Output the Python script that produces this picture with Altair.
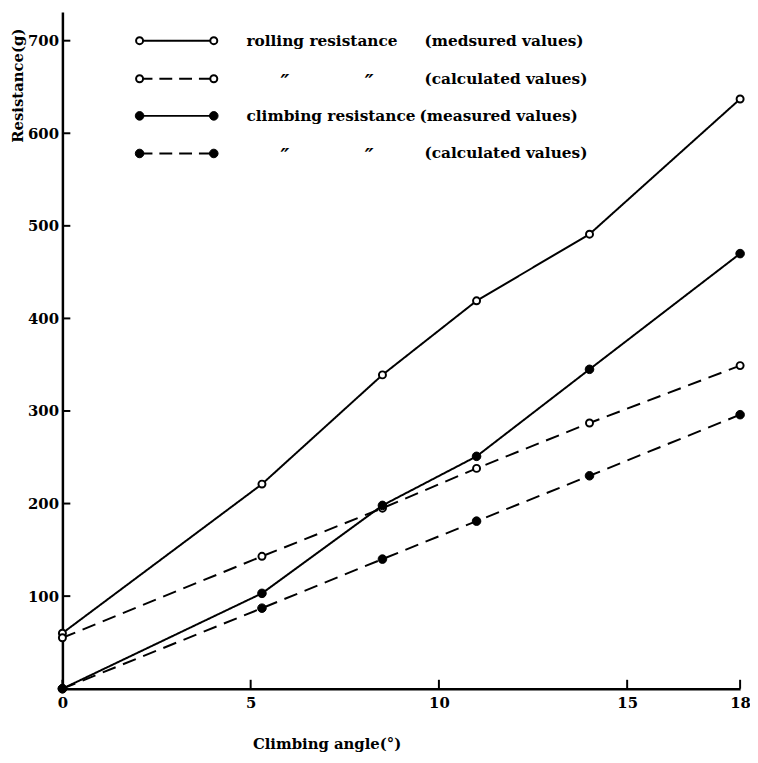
import altair as alt
import pandas as pd

# ---- data ----
angles = [0, 5.3, 8.5, 11, 14, 18]
rolling_measured = [60, 221, 339, 419, 491, 637]
rolling_calculated = [55, 143, 195, 238, 287, 349]
climbing_measured = [0, 103, 198, 251, 345, 470]
climbing_calculated = [0, 87, 140, 181, 230, 296]

x_ticks = [0, 5, 10, 15, 18]
y_ticks = [100, 200, 300, 400, 500, 600, 700]

legend_names = ["rolling resistance", "\u2033", "climbing resistance", "\u2033"]
legend_notes = ["(medsured values)", "(calculated values)", "(measured values)", "(calculated values)"]

FONT = "DejaVu Serif"
W, H = 685, 684
DASH = [14, 8]

x_scale = alt.Scale(domain=[0, 18], nice=False, zero=False)
y_scale = alt.Scale(domain=[0, 731], nice=False)

series = [
    ("rolling resistance (measured)", rolling_measured, False, False),
    ("rolling resistance (calculated)", rolling_calculated, True, False),
    ("climbing resistance (measured)", climbing_measured, False, True),
    ("climbing resistance (calculated)", climbing_calculated, True, True),
]

x_axis = alt.Axis(
    values=x_ticks, ticks=False, grid=False, domainColor="black", domainWidth=2.5,
    labelFont=FONT, labelFontSize=15, labelFontWeight="bold", labelColor="black",
    labelPadding=7, labelAngle=0, labelFlush=False, labelOverlap=False,
    title="Climbing angle(\u00b0)", titleFont=FONT, titleFontSize=15, titleFontWeight="bold",
    titleColor="black", titleX=267, titleY=60, titleBaseline="alphabetic", titleAlign="center",
)
y_axis = alt.Axis(
    values=y_ticks, ticks=False, grid=False, domainColor="black", domainWidth=2.5,
    labelFont=FONT, labelFontSize=15, labelFontWeight="bold", labelColor="black",
    labelPadding=4, labelFlush=False, labelOverlap=False,
    title="Resistance(g)", titleFont=FONT, titleFontSize=15, titleFontWeight="bold",
    titleColor="black", titleAngle=270, titleX=-45, titleY=74,
    titleAlign="center", titleBaseline="middle",
)


def X(field):
    return alt.X(field, scale=x_scale, axis=x_axis, title="Climbing angle(\u00b0)")


def Y(field):
    return alt.Y(field, scale=y_scale, axis=y_axis, title="Resistance(g)")


def dot(filled):
    return dict(
        size=75 if filled else 50, fill="black" if filled else "white",
        stroke="black", strokeWidth=2 if not filled else 1, opacity=1,
    )


layers = []
for name, vals, dashed, filled in series:
    df = pd.DataFrame({"angle": angles, "resistance": vals, "series": name})
    line = alt.Chart(df).mark_line(
        color="black", strokeWidth=2, strokeDash=DASH if dashed else [1, 0]
    ).encode(x=X("angle:Q"), y=Y("resistance:Q"))
    layers.append(line)
for name, vals, dashed, filled in series:
    df = pd.DataFrame({"angle": angles, "resistance": vals, "series": name})
    pts = alt.Chart(df).mark_circle(**dot(filled)).encode(x=X("angle:Q"), y=Y("resistance:Q"))
    layers.append(pts)

# inward tick marks
xt = alt.Chart(pd.DataFrame({"angle": x_ticks})).mark_rule(color="black", strokeWidth=2).encode(
    x=X("angle:Q"), y=alt.value(H), y2=alt.value(H - 9)
)
yt = alt.Chart(pd.DataFrame({"resistance": y_ticks})).mark_rule(color="black", strokeWidth=2).encode(
    y=Y("resistance:Q"), x=alt.value(0), x2=alt.value(8)
)
layers += [xt, yt]

# custom legend
row_y = [29, 67.5, 105, 143]
note_x = [366, 366, 361, 366]
for i, (name, vals, dashed, filled) in enumerate(series):
    one = pd.DataFrame({"t": [legend_names[i]], "n": [legend_notes[i]]})
    yy = row_y[i]
    layers.append(alt.Chart(one).mark_rule(
        color="black", strokeWidth=2, strokeDash=[13, 7] if dashed else [1, 0]
    ).encode(x=alt.value(78), x2=alt.value(153), y=alt.value(yy)))
    for px in (78, 153):
        layers.append(alt.Chart(one).mark_circle(**dot(filled)).encode(
            x=alt.value(px), y=alt.value(yy)))
    if legend_names[i] == "\u2033":
        for px in (225, 310):
            layers.append(alt.Chart(one).mark_text(
                font=FONT, fontSize=20, fontWeight="bold", fontStyle="italic", color="black",
                align="center", baseline="middle",
            ).encode(x=alt.value(px), y=alt.value(yy + 4), text="t:N"))
    else:
        layers.append(alt.Chart(one).mark_text(
            font=FONT, fontSize=15.5, fontWeight="bold", color="black",
            align="left", baseline="middle",
        ).encode(x=alt.value(186), y=alt.value(yy), text="t:N"))
    layers.append(alt.Chart(one).mark_text(
        font=FONT, fontSize=15.5, fontWeight="bold", color="black",
        align="left", baseline="middle",
    ).encode(x=alt.value(note_x[i]), y=alt.value(yy), text="n:N"))

chart = alt.layer(*layers).properties(
    width=W, height=H,
    autosize=alt.AutoSizeParams(type="none"),
    padding={"left": 55, "top": 0, "right": 10, "bottom": 65},
    background="white",
).configure_view(stroke=None)

chart.save("out.html", embed_options={"renderer": "svg", "actions": False})
